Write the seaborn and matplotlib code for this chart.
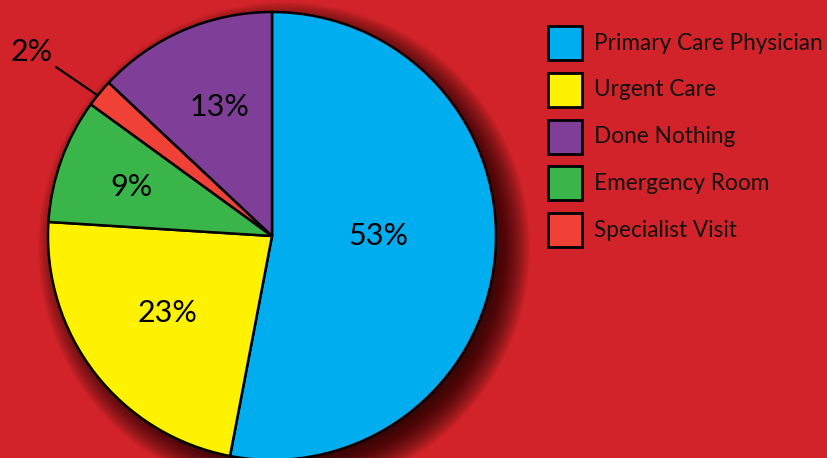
import matplotlib
matplotlib.use("Agg")
import matplotlib.pyplot as plt
import seaborn as sns
import numpy as np
from matplotlib.patches import Circle, Rectangle

categories = ["Primary Care Physician", "Urgent Care", "Emergency Room", "Specialist Visit", "Done Nothing"]
values = [53, 23, 9, 2, 13]
labels = ["53%", "23%", "9%", "2%", "13%"]
legend_order = ["Primary Care Physician", "Urgent Care", "Done Nothing", "Emergency Room", "Specialist Visit"]
colors = {"Primary Care Physician": "#00AEEF", "Urgent Care": "#FFF200",
          "Emergency Room": "#3AB54A", "Specialist Visit": "#EF4136", "Done Nothing": "#7F3F98"}

sns.set_theme(style="white")
plt.rcParams['font.family'] = ['Lato', 'DejaVu Sans']
BG = "#D2232A"

fig = plt.figure(figsize=(8.27, 4.58), dpi=100, facecolor=BG)
ax = fig.add_axes([0, 0, 1, 1])
ax.set_facecolor(BG)

cx, cy, R = 272, 222, 224

# soft drop shadow (offset right/down)
n = 45
for i in range(n):
    r = R + 22 - i * (40 / n)
    ax.add_patch(Circle((cx + 12, cy - 12), r, facecolor="#1a0505", edgecolor="none",
                        alpha=0.035, zorder=1))

wedges, _ = ax.pie(values, colors=[colors[c] for c in categories], startangle=90,
                   counterclock=False, center=(cx, cy), radius=R,
                   wedgeprops=dict(edgecolor="black", linewidth=1.8))
for w in wedges:
    w.set_zorder(3)

label_pos = {"53%": (378, 236), "23%": (168, 313), "9%": (131, 187), "13%": (220, 107)}
for lab, (x, y) in label_pos.items():
    ax.text(x, 458 - y, lab, ha="center", va="center", fontsize=22, color="black", zorder=5)
ax.text(32, 458 - 52, "2%", ha="center", va="center", fontsize=22, color="black", zorder=5)
ax.plot([56, 97], [458 - 67, 458 - 95], color="black", lw=1.6, zorder=5)

ax.set_xlim(0, 827)
ax.set_ylim(0, 458)
ax.set_aspect("equal")
ax.axis("off")

# legend
for i, name in enumerate(legend_order):
    yc = 458 - (43 + i * 46.8)
    ax.add_patch(Rectangle((548, yc - 17), 34, 34, facecolor=colors[name],
                           edgecolor="black", linewidth=2, zorder=5))
    ax.text(594, yc, name, ha="left", va="center", fontsize=16.3, color="#111111", zorder=5)

fig.savefig("out.png", dpi=100, facecolor=BG)
